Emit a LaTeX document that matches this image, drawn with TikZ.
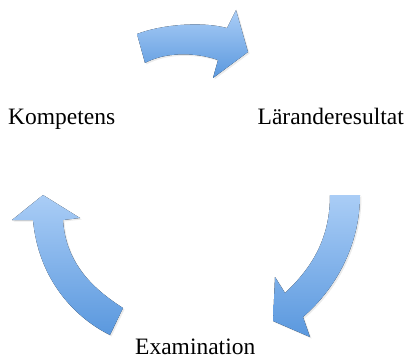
\documentclass[tikz,border=0pt]{standalone}
\usepackage{fontspec}
\setmainfont{Liberation Serif}
\usetikzlibrary{positioning}
\definecolor{pilljus}{RGB}{170,205,246}
\definecolor{pilmork}{RGB}{90,152,222}
\begin{document}
\begin{tikzpicture}[x=1pt,y=-1pt,
  etikett/.style={inner sep=0pt,font=\fontsize{23.5}{28}\selectfont},
  pil/.style={top color=pilljus,bottom color=pilmork,draw=none,
    preaction={fill=black,opacity=0.08,transform canvas={xshift=1.5pt,yshift=-1.5pt}}}
]
\useasboundingbox (0,0) rectangle (409,358);

% texterna
\node[etikett,anchor=base west] (komp) at (8,125) {Kompetens};
\node[etikett,anchor=base east] (lar) at (404,125) {Läranderesultat};
\node[etikett,anchor=base west] (exam) at (135,354) {Examination};

% pil upptill
\fill[pil] (137,34) .. controls (160,25) and (200,21) .. (227,28)
  -- (236,10) -- (248,52) -- (213,78) -- (218,60)
  .. controls (195,52) and (165,52) .. (145,63) -- cycle;

% pil till hoger
\fill[pil] (330,195) -- (360,195)
  .. controls (360,240) and (340,285) .. (303,317)
  -- (310,337) -- (273,321) -- (275,277) -- (285,293)
  .. controls (315,265) and (330,235) .. cycle;

% pil till vanster
\fill[pil] (123,308) .. controls (95,290) and (66,265) .. (63,220)
  -- (80,218) -- (43,195) -- (12,220) -- (33,220)
  .. controls (38,275) and (70,315) .. (110,335) -- cycle;
\end{tikzpicture}
\end{document}
